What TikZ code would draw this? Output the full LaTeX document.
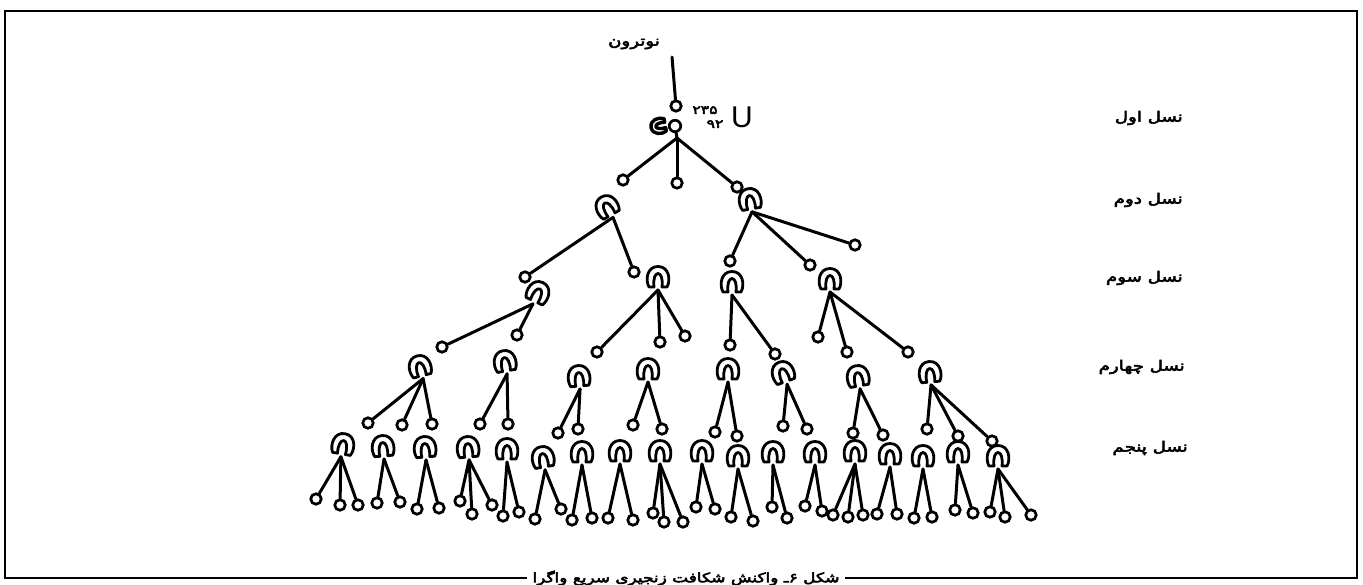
\documentclass[tikz,border=0pt]{standalone}
\usepackage{fontspec}
\TeXXeTstate=1
\newfontfamily\fa[Script=Arabic,FakeBold=4,FakeStretch=1.3]{DejaVu Sans}
\newfontfamily\ufont{Liberation Sans}
\tikzset{
  nucleus/.pic={
    \draw[nucline] (-4,9) -- (-9,9) .. controls (-13,2) and (-11,-11.5) .. (0,-11.5)
      .. controls (11,-11.5) and (13,2) .. (9,9) -- (4,9)
      .. controls (5,1) and (3,-4.5) .. (0,-4.5) .. controls (-3,-4.5) and (-5,1) .. (-4,9) -- cycle;
    \coordinate (-base) at (0,12);
  }
}
\begin{document}
\begin{tikzpicture}[x=1pt,y=-1pt,
  link/.style={line width=3pt, line cap=round},
  neutron/.style={circle, draw, line width=2.7pt, minimum size=10.5pt, inner sep=0pt, fill=white},
  nucline/.style={line width=2.8pt, fill=white, line join=round},
  framel/.style={line width=2.2pt},
  fatext/.style={font=\fa\fontsize{14}{16}\selectfont, inner sep=0pt},
  lbl/.style={fatext, anchor=east}]
\useasboundingbox (0,0) rectangle (1363,585);

% frame with caption on the bottom edge
\coordinate (tl) at (5,11);
\coordinate (tr) at (1357,11);
\coordinate (bl) at (5,578);
\coordinate (br) at (1357,578);
\node[font=\fa\fontsize{13}{15}\selectfont, inner sep=0pt, inner xsep=5pt] (cap) at (686,578)
  {\beginR شکل ۶ـ واکنش شکافت زنجیری سریع واگرا\endR};
\draw[framel] (cap.west) -- (bl) -- (tl) -- (tr) -- (br) -- (cap.east);

% generation labels
\node[lbl] (g1) at (1183,118) {\beginR نسل اول\endR};
\node[lbl] (g2) at (1183,200) {\beginR نسل دوم\endR};
\node[lbl] (g3) at (1183,278) {\beginR نسل سوم\endR};
\node[lbl] (g4) at (1185,367) {\beginR نسل چهارم\endR};
\node[lbl] (g5) at (1188,448) {\beginR نسل پنجم\endR};

% incoming neutron and the uranium nucleus
\node[fatext] (ntlabel) at (634,44) {\beginR نوترون\endR};
\coordinate (nsrc) at (672,57);
\node[neutron] (n0) at (676,106) {};
\draw[link] (nsrc) -- (n0);
\node[neutron, minimum size=11.5pt] (u) at (675,126) {};
\pic[rotate=100, scale=0.7, nucline/.append style={line width=3.4pt}] (frag) at (659,126) {nucleus};
\node[font=\fa\fontsize{12}{14}\selectfont, anchor=base, inner sep=0pt] (mass) at (705,114) {۲۳۵};
\node[font=\fa\fontsize{12}{14}\selectfont, anchor=base, inner sep=0pt] (znum) at (715,128) {۹۲};
\node[font=\ufont\fontsize{30}{32}\selectfont, anchor=base, inner sep=0pt] (uel) at (742,128) {U};
\coordinate (usplit) at (677,138);

% nuclei: name / x / y / tilt
\foreach \n/\x/\y/\r in {
  A1/607/207/30, A2/750/200/10,
  B1/538/293/-25, B2/658/278/0, B3/732/283/0, B4/830/280/0,
  C1/420/367/15, C2/505/362/10, C3/579/377/5, C4/648/370/0,
  C5/728/370/0, C6/783/373/20, C7/858/377/10, C8/930/373/5,
  D1/343/445/-10, D2/383/447/5, D3/425/448/5, D4/468/448/5, D5/507/450/0,
  D6/543/458/10, D7/582/453/0, D8/620/452/0, D9/660/452/0, D10/702/452/0,
  D11/738/457/0, D12/773/453/0, D13/815/453/0, D14/855/452/0, D15/890/455/0,
  D16/923/457/0, D17/958/453/0, D18/998/457/0}
  \pic[rotate=\r] (\n) at (\x,\y) {nucleus};

% neutrons
\foreach \n/\x/\y in {
  a1/623/180, a2/677/183, a3/737/187,
  b1/525/277, b2/634/272, b3/730/261, b4/810/265, b5/855/245,
  c1/442/347, c2/517/335, c3/597/352, c4/660/342, c5/685/336,
  c6/730/345, c7/775/354, c8/818/337, c9/847/352, c10/908/352,
  d1/368/423, d2/402/425, d3/432/424, d4/480/424, d5/508/424, d6/558/433,
  d7/578/429, d8/633/425, d9/662/429, d10/715/432, d11/737/436, d12/783/426,
  d13/807/429, d14/853/433, d15/883/435, d16/927/429, d17/958/436, d18/992/441,
  e1/316/499, e2/340/505, e3/358/505, e4/377/503, e5/400/502, e6/417/509,
  e7/439/508, e8/460/501, e9/472/514, e10/492/505, e11/503/516, e12/519/512,
  e13/535/519, e14/561/509, e15/572/520, e16/592/518, e17/608/518, e18/633/520,
  e19/653/513, e20/664/522, e21/683/522, e22/696/507, e23/715/509, e24/731/517,
  e25/753/521, e26/772/507, e27/787/518, e28/805/506, e29/822/511, e30/833/515,
  e31/848/517, e32/863/515, e33/877/514, e34/897/514, e35/914/518, e36/932/517,
  e37/955/510, e38/973/513, e39/990/512, e40/1005/517, e41/1031/515}
  \node[neutron] (\n) at (\x,\y) {};

% first fission
\draw[link] (u) -- (usplit);
\foreach \c in {a1,a2,a3} \draw[link] (usplit) -- (\c);

% fission products of each nucleus
\foreach \p/\c in {
  A1/b1, A1/b2, A2/b3, A2/b4, A2/b5,
  B1/c1, B1/c2, B2/c3, B2/c4, B2/c5, B3/c6, B3/c7, B4/c8, B4/c9, B4/c10,
  C1/d1, C1/d2, C1/d3, C2/d4, C2/d5, C3/d6, C3/d7, C4/d8, C4/d9,
  C5/d10, C5/d11, C6/d12, C6/d13, C7/d14, C7/d15, C8/d16, C8/d17, C8/d18,
  D1/e1, D1/e2, D1/e3, D2/e4, D2/e5, D3/e6, D3/e7, D4/e8, D4/e9, D4/e10,
  D5/e11, D5/e12, D6/e13, D6/e14, D7/e15, D7/e16, D8/e17, D8/e18,
  D9/e19, D9/e20, D9/e21, D10/e22, D10/e23, D11/e24, D11/e25,
  D12/e26, D12/e27, D13/e28, D13/e29, D14/e30, D14/e31, D14/e32,
  D15/e33, D15/e34, D16/e35, D16/e36, D17/e37, D17/e38,
  D18/e39, D18/e40, D18/e41}
  \draw[link] (\p-base) -- (\c);
\end{tikzpicture}
\end{document}
